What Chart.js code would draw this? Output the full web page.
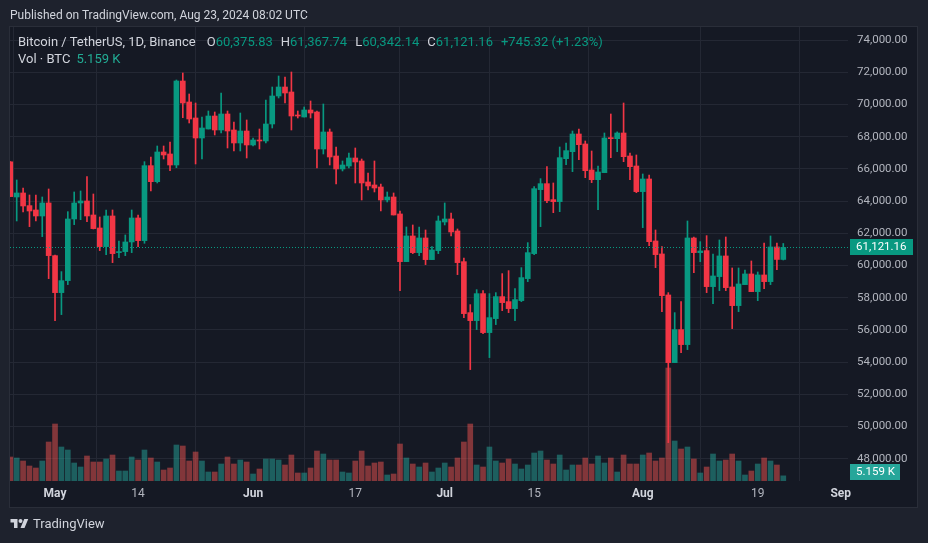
<!DOCTYPE html>
<html>
<head>
<meta charset="utf-8">
<script src="https://cdn.jsdelivr.net/npm/chart.js@4.4.1/dist/chart.umd.min.js"></script>
<style>
  html, body { margin: 0; padding: 0; background: #1e222d; }
  #wrap { position: relative; width: 928px; height: 543px; overflow: hidden;
          font-family: Roboto, "Noto Sans", sans-serif; }
  #frame { position: absolute; left: 9px; top: 26px; width: 909px; height: 482px;
           background: #151924; border: 1px solid #2a2e39; box-sizing: border-box; }
  #chart { position: absolute; left: 0; top: 0; }
  .pub { position: absolute; left: 10px; top: 8px; font-size: 12px; color: #d1d4dc; white-space: nowrap; }
  .legend { position: absolute; left: 18px; font-size: 13px; color: #d1d4dc; white-space: nowrap; }
  .legend span { margin-left: 8px; }
  .legend .t { margin-left: 0; margin-right: 3px; }
  .legend .v { margin-left: 0; color: #089981; }
  .brand { position: absolute; left: 10px; top: 516px; font-size: 13px; color: #d1d4dc;
           display: flex; align-items: center; }
  .brand svg { margin-right: 4px; }
</style>
</head>
<body>
<div id="wrap">
  <div id="frame"></div>
  <canvas id="chart" width="928" height="543"></canvas>
  <div class="pub">Published on TradingView.com, Aug 23, 2024 08:02 UTC</div>
  <div class="legend" id="ohlc" style="top:34px"></div>
  <div class="legend" id="vol" style="top:51px"></div>
  <div class="brand">
    <svg width="19" height="14" viewBox="0 0 36 28"><path fill="#d1d4dc" d="M14 22H7V11H0V4h14v18zM28 22h-8l7.5-18h8L28 22z"/><circle fill="#d1d4dc" cx="20" cy="8" r="4"/></svg>
    <span>TradingView</span>
  </div>
</div>
<script>
// --- Datos: BTC/USDT diario, 24 abr - 23 ago 2024 (indice = dias desde 24 abr) ---
const open = [66440, 64256, 64505, 63720, 63449, 63076, 63884, 60613, 58315, 59060,
  62890, 63884, 64008, 63138, 62331, 61172, 63076, 60800, 60862, 61462,
  62952, 61545, 66202, 65208, 67051, 66927, 66243, 71460, 70156, 69162,
  67920, 68479, 69286, 68417, 69411, 68417, 67610, 68355, 67486, 67796,
  67734, 68790, 70529, 71087, 70777, 69348, 69224, 69659, 69535, 67237,
  68293, 66802, 65995, 66181, 66678, 66492, 65188, 65002, 64877, 64070,
  64256, 63201, 60240, 61834, 60799, 61710, 60365, 60924, 62702, 62890,
  62145, 60240, 57073, 56577, 58253, 55832, 56701, 58067, 57756, 57322,
  57819, 59185, 60737, 64712, 65084, 64091, 63967, 66637, 67072, 68168,
  67548, 65933, 65333, 65768, 67941, 67879, 68231, 66802, 66181, 64588,
  65374, 61524, 60717, 58170, 53968, 56019, 55087, 61710, 60799, 60924,
  58688, 59309, 60593, 58667, 57508, 58812, 59475, 58377, 59413, 58998,
  61151, 60375.83];

const high = [66460, 65312, 64815, 64380, 64380, 64256, 64753, 60655, 59620, 63345,
  64567, 64629, 65519, 64442, 63014, 63449, 63449, 61524, 61897, 63449,
  63138, 66450, 66740, 67423, 67423, 67672, 71522, 71957, 70653, 70094,
  69224, 69597, 69535, 70715, 69597, 68914, 69472, 69038, 67920, 68479,
  70280, 71087, 71770, 71708, 72019, 69597, 69845, 70218, 69597, 70032,
  68479, 67361, 66492, 66988, 67299, 66616, 65747, 66492, 65064, 64567,
  64505, 63387, 62393, 62517, 62393, 62207, 61172, 63076, 63884, 63263,
  62269, 60468, 57570, 58501, 58440, 58253, 58315, 59496, 59682, 58563,
  59868, 61420, 64898, 65395, 66140, 65126, 67361, 67610, 68355, 68479,
  67734, 67113, 66181, 68231, 69410, 68300, 70094, 66988, 66864, 65685,
  65623, 62207, 61172, 58315, 57073, 57756, 62766, 61772, 61482, 61855,
  60717, 61586, 61772, 59847, 59847, 59723, 60282, 59599, 61400, 61835,
  61400, 61367.74];

const low = [64270, 62766, 63325, 62414, 62766, 61793, 59185, 56577, 56950, 58812,
  62538, 62848, 62724, 62269, 60924, 60675, 60178, 60489, 60613, 60799,
  61172, 61379, 64629, 65126, 66616, 65892, 66078, 69183, 68852, 66306,
  66616, 68479, 68107, 68231, 67299, 67113, 67113, 66678, 67423, 67237,
  67610, 68541, 70405, 70094, 68417, 69162, 69224, 69162, 66057, 66926,
  66243, 65064, 65871, 66057, 65126, 64070, 64691, 64567, 63387, 63946,
  63138, 58440, 60240, 60737, 60613, 60054, 60365, 60737, 62517, 61834,
  59433, 56763, 53534, 56019, 55770, 54279, 56329, 57197, 57073, 56577,
  57756, 58998, 60675, 62414, 63904, 63283, 63345, 66264, 65830, 66575,
  65457, 65147, 63470, 65768, 66699, 67072, 66450, 65333, 64525, 62352,
  61234, 59868, 57135, 48999, 53968, 54589, 54776, 59558, 60240, 58315,
  57632, 58439, 58439, 56080, 57135, 58812, 58377, 57818, 58564, 58812,
  59744, 60342.14];

const close = [64280, 64505, 63697, 63387, 63076, 63884, 60613, 58315, 59060, 62890,
  63884, 64008, 63076, 62290, 61172, 63076, 60737, 60862, 61462, 62952,
  61545, 66202, 65208, 67051, 66865, 66243, 71460, 70094, 69100, 67920,
  68541, 69286, 68417, 69411, 68355, 67610, 68355, 67486, 67796, 67734,
  68790, 70529, 71087, 70715, 69286, 69286, 69659, 69473, 67237, 68293,
  66740, 65995, 66243, 66678, 66430, 65126, 64940, 64815, 64070, 64256,
  63138, 60240, 61834, 60799, 61710, 60365, 60965, 62766, 62890, 62083,
  60178, 57011, 56577, 58253, 55832, 56763, 58067, 57694, 57322, 57881,
  59248, 60799, 64773, 65084, 64029, 63967, 66699, 67134, 68168, 67506,
  65892, 65333, 65809, 67920, 67879, 68231, 66761, 66140, 64588, 65374,
  61482, 60675, 58129, 53968, 56019, 55087, 61710, 60799, 60903, 58688,
  59350, 60593, 58625, 57508, 58853, 59475, 58377, 59413, 58998, 61151,
  60375.84, 61121.16];

// volumen en miles de BTC
const volume = [24, 23, 20, 15, 13, 20, 39, 57, 34, 31,
  18, 14, 25, 19, 19, 22, 26, 10, 10, 24,
  21, 31, 23, 19, 11, 13, 36, 35, 20, 29,
  20, 9, 9, 17, 24, 17, 21, 19, 7, 12,
  22, 22, 21, 16, 26, 8, 8, 13, 30, 27,
  21, 21, 9, 8, 20, 30, 15, 18, 19, 6,
  7, 37, 23, 17, 14, 18, 9, 13, 18, 14,
  23, 39, 57, 16, 14, 34, 20, 18, 22, 17,
  12, 16, 28, 30, 21, 17, 26, 11, 16, 16,
  23, 17, 25, 18, 23, 9, 26, 17, 17, 26,
  28, 20, 23, 113, 40, 32, 34, 22, 8, 14,
  27, 20, 21, 27, 20, 6, 10, 17, 23, 20,
  16, 5.159];

// eje de tiempo: dias desde 24 abr
const tickDays = [7, 20, 38, 54, 68, 82, 99, 117, 130];
const tickLabels = ['May', '14', 'Jun', '17', 'Jul', '15', 'Aug', '19', 'Sep'];
const monthTicks = ['May', 'Jun', 'Jul', 'Aug', 'Sep'];

// eje de precios
const priceTicks = [48000, 50000, 52000, 54000, 56000, 58000, 60000,
  62000, 64000, 66000, 68000, 70000, 72000, 74000];

// --- Estilos ---
const UP = '#089981';
const DOWN = '#f23645';
const VOL_UP = 'rgba(38, 166, 154, 0.5)';
const VOL_DOWN = 'rgba(239, 83, 80, 0.5)';
const GRID = '#242834';
const TEXT = '#b2b5be';

const last = close.length - 1;
const isUp = close.map((c, i) => c >= open[i]);

function fmt(n, d = 2) {
    return n.toLocaleString('en-US', { minimumFractionDigits: d, maximumFractionDigits: d });
}

// --- Leyenda ---
const change = close[last] - close[last - 1];
const pct = change / close[last - 1] * 100;
document.getElementById('ohlc').innerHTML =
    `<span class="t">Bitcoin / TetherUS, 1D, Binance</span>` +
    `<span>O</span><span class="v">${fmt(open[last])}</span>` +
    `<span>H</span><span class="v">${fmt(high[last])}</span>` +
    `<span>L</span><span class="v">${fmt(low[last])}</span>` +
    `<span>C</span><span class="v">${fmt(close[last])}</span>` +
    `<span class="v" style="margin-left:8px">${change >= 0 ? '+' : ''}${fmt(change)} (${change >= 0 ? '+' : ''}${fmt(pct)}%)</span>`;
document.getElementById('vol').innerHTML =
    `<span class="t" style="margin-right:6px">Vol · BTC</span><span class="v" style="color:#22ab94">${fmt(volume[last], 3)} K</span>`;

// --- Precio actual y etiquetas del eje ---
const lastPricePlugin = {
    id: 'lastPrice',
    afterDatasetsDraw(chart) {
        const { ctx, chartArea, scales } = chart;
        const y = Math.round(scales.y.getPixelForValue(close[last])) + 0.5;
        ctx.save();
        ctx.strokeStyle = UP;
        ctx.lineWidth = 1;
        ctx.setLineDash([1, 2]);
        ctx.beginPath();
        ctx.moveTo(chartArea.left, y);
        ctx.lineTo(chartArea.right, y);
        ctx.stroke();
        ctx.restore();
    },
    afterDraw(chart) {
        const { ctx, chartArea, scales } = chart;
        ctx.save();
        ctx.font = '11.5px Roboto, sans-serif';
        ctx.textBaseline = 'middle';

        // etiqueta del precio
        const yp = Math.round(scales.y.getPixelForValue(close[last]));
        ctx.fillStyle = UP;
        ctx.fillRect(chartArea.right + 2, yp - 8, 63, 16);
        ctx.fillStyle = '#ffffff';
        ctx.fillText(fmt(close[last]), chartArea.right + 8, yp + 0.5);

        // etiqueta del volumen
        let yv = Math.round(scales.yv.getPixelForValue(volume[last]));
        yv = Math.min(yv, chartArea.bottom - 9);
        ctx.fillStyle = '#26a69a';
        ctx.fillRect(chartArea.right + 2, yv - 8, 50, 16);
        ctx.fillStyle = '#ffffff';
        ctx.fillText(fmt(volume[last], 3) + ' K', chartArea.right + 8, yv + 0.5);
        ctx.restore();
    }
};

// --- Grafico ---
Chart.defaults.font.family = 'Roboto, "Noto Sans", sans-serif';
Chart.defaults.color = TEXT;

const idx = close.map((_, i) => i);

new Chart(document.getElementById('chart'), {
    type: 'bar',
    data: {
        datasets: [
            {
                label: 'Volumen',
                yAxisID: 'yv',
                data: idx.map(i => ({ x: i, y: volume[i] })),
                backgroundColor: idx.map(i => isUp[i] ? VOL_UP : VOL_DOWN),
                barThickness: 5,
                grouped: false,
                order: 3
            },
            {
                label: 'Mechas',
                yAxisID: 'y',
                data: idx.map(i => ({ x: i, y: [low[i], high[i]] })),
                backgroundColor: idx.map(i => isUp[i] ? UP : DOWN),
                barThickness: 1,
                grouped: false,
                order: 2
            },
            {
                label: 'Cuerpos',
                yAxisID: 'y',
                data: idx.map(i => ({ x: i, y: [Math.min(open[i], close[i]), Math.max(open[i], close[i])] })),
                backgroundColor: idx.map(i => isUp[i] ? UP : DOWN),
                barThickness: 5,
                minBarLength: 1,
                grouped: false,
                order: 1
            }
        ]
    },
    options: {
        responsive: false,
        animation: false,
        layout: { padding: { left: 10, top: 27, right: 10, bottom: 36 } },
        plugins: {
            legend: { display: false },
            tooltip: { enabled: false }
        },
        scales: {
            x: {
                type: 'linear',
                offset: false,
                min: -0.05,
                max: 131.13,
                afterBuildTicks: axis => { axis.ticks = tickDays.map(v => ({ value: v })); },
                afterFit: axis => { axis.height = 26; },
                grid: { color: GRID, drawTicks: false },
                border: { display: false },
                ticks: {
                    padding: 6,
                    maxRotation: 0,
                    autoSkip: false,
                    callback: value => tickLabels[tickDays.indexOf(value)],
                    font: ctx => ({
                        size: 12,
                        weight: monthTicks.includes(tickLabels[ctx.index]) ? 'bold' : 'normal'
                    }),
                    color: ctx => monthTicks.includes(tickLabels[ctx.index]) ? '#d1d4dc' : TEXT
                }
            },
            y: {
                position: 'right',
                min: 46615,
                max: 74814,
                afterBuildTicks: axis => { axis.ticks = priceTicks.map(v => ({ value: v })); },
                afterFit: axis => { axis.width = 70; },
                grid: { color: GRID, drawTicks: false },
                border: { display: false },
                ticks: {
                    padding: 9,
                    font: { size: 11.5 },
                    callback: value => fmt(value)
                }
            },
            yv: {
                display: false,
                min: 0,
                max: 454
            }
        }
    },
    plugins: [lastPricePlugin]
});
</script>
</body>
</html>
